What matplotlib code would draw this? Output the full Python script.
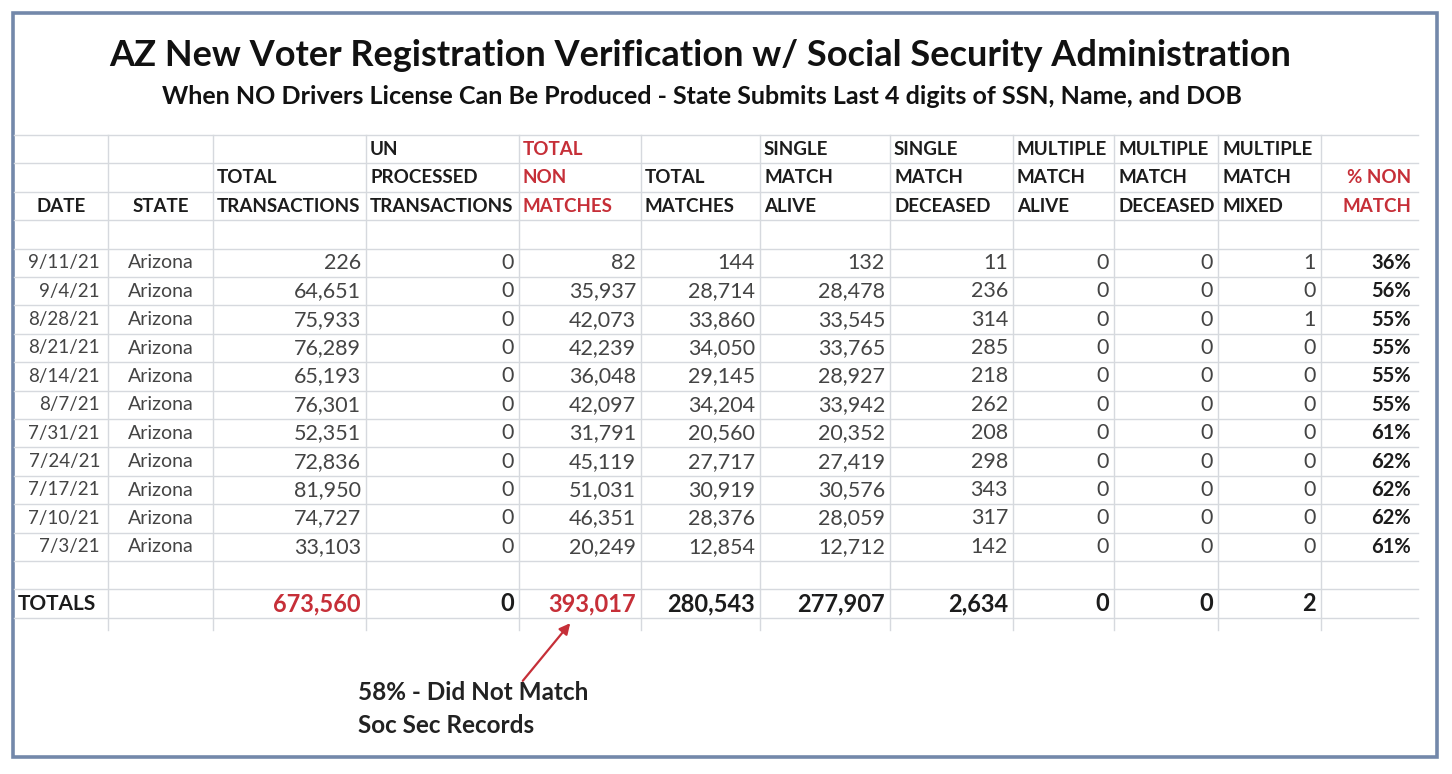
import matplotlib
matplotlib.use("Agg")
import matplotlib.pyplot as plt
from matplotlib.patches import Rectangle

# ---- data ----
dates = ["9/11/21", "9/4/21", "8/28/21", "8/21/21", "8/14/21", "8/7/21",
         "7/31/21", "7/24/21", "7/17/21", "7/10/21", "7/3/21"]
state = "Arizona"
total_transactions = [226, 64651, 75933, 76289, 65193, 76301, 52351, 72836, 81950, 74727, 33103]
unprocessed = [0, 0, 0, 0, 0, 0, 0, 0, 0, 0, 0]
total_non_matches = [82, 35937, 42073, 42239, 36048, 42097, 31791, 45119, 51031, 46351, 20249]
total_matches = [144, 28714, 33860, 34050, 29145, 34204, 20560, 27717, 30919, 28376, 12854]
single_alive = [132, 28478, 33545, 33765, 28927, 33942, 20352, 27419, 30576, 28059, 12712]
single_deceased = [11, 236, 314, 285, 218, 262, 208, 298, 343, 317, 142]
multiple_alive = [0, 0, 0, 0, 0, 0, 0, 0, 0, 0, 0]
multiple_deceased = [0, 0, 0, 0, 0, 0, 0, 0, 0, 0, 0]
multiple_mixed = [1, 0, 1, 0, 0, 0, 0, 0, 0, 0, 0]
pct_non_match = [36, 56, 55, 55, 55, 55, 61, 62, 62, 62, 61]
totals = [673560, 0, 393017, 280543, 277907, 2634, 0, 0, 2]

headers = [
    ("", "", "DATE"),
    ("", "", "STATE"),
    ("", "TOTAL", "TRANSACTIONS"),
    ("UN", "PROCESSED", "TRANSACTIONS"),
    ("TOTAL", "NON", "MATCHES"),
    ("", "TOTAL", "MATCHES"),
    ("SINGLE", "MATCH", "ALIVE"),
    ("SINGLE", "MATCH", "DECEASED"),
    ("MULTIPLE", "MATCH", "ALIVE"),
    ("MULTIPLE", "MATCH", "DECEASED"),
    ("MULTIPLE", "MATCH", "MIXED"),
    ("", "% NON", "MATCH"),
]

title = "AZ New Voter Registration Verification w/ Social Security Administration"
subtitle = "When NO Drivers License Can Be Produced - State Submits Last 4 digits of SSN, Name, and DOB"
note = "58% - Did Not Match\nSoc Sec Records"

# ---- layout (pixel coords) ----
RED = "#c62f38"
INK = "#1c1c1c"
GREY = "#444444"
GRID = "#d6d9de"
FONT = "Lato"

col_edges = [14, 108, 213, 366, 519, 641, 760, 890, 1013, 1114, 1218, 1321, 1418]
row_top = 135
row_h = 28.4

fig = plt.figure(figsize=(14.52, 7.74), dpi=100)
ax = fig.add_axes([0, 0, 1, 1])
ax.set_xlim(0, 1452)
ax.set_ylim(774, 0)
ax.axis("off")

# frame
ax.add_patch(Rectangle((13, 13), 1424, 744, fill=False, ec="#7388aa", lw=2.6))

# grid
n_rows = 17
for k in range(n_rows + 1):
    y = row_top + k * row_h
    ax.plot([col_edges[0], col_edges[-1]], [y, y], color=GRID, lw=1.0)
for x in col_edges[1:-1]:
    ax.plot([x, x], [row_top, row_top + n_rows * row_h + 12], color=GRID, lw=1.0)

def row_y(i):
    return row_top + (i + 0.5) * row_h

# titles
ax.text(700, 55, title, ha="center", va="center", fontsize=26, fontfamily=FONT,
        fontweight="bold", color="#111111")
ax.text(702, 97, subtitle, ha="center", va="center", fontsize=18, fontfamily=FONT,
        fontweight="bold", color="#111111")

# header
for c, lines in enumerate(headers):
    color = RED if c in (4, 11) else INK
    for r, txt in enumerate(lines):
        if not txt:
            continue
        if c in (0, 1):
            x, ha = (col_edges[c] + col_edges[c + 1]) / 2, "center"
        elif c == 11:
            x, ha = col_edges[c + 1] - 7, "right"
        else:
            x, ha = col_edges[c] + 4, "left"
        ax.text(x, row_y(r), txt, ha=ha, va="center", fontsize=13.5,
                fontfamily=FONT, fontweight="bold", color=color)

# body
numeric_cols = [total_transactions, unprocessed, total_non_matches, total_matches,
                single_alive, single_deceased, multiple_alive, multiple_deceased,
                multiple_mixed]
for i, d in enumerate(dates):
    y = row_y(4 + i)
    ax.text(col_edges[1] - 8, y, d, ha="right", va="center", fontsize=13.5,
            fontfamily=FONT, color=GREY)
    ax.text(col_edges[1] + 20, y, state, ha="left", va="center", fontsize=14,
            fontfamily=FONT, color=GREY)
    for j, vals in enumerate(numeric_cols):
        ax.text(col_edges[j + 3] - 5, y, f"{vals[i]:,}", ha="right", va="center",
                fontsize=15.5, fontfamily=FONT, color=GREY)
    ax.text(col_edges[12] - 7, y, f"{pct_non_match[i]}%", ha="right", va="center",
            fontsize=14.5, fontfamily=FONT, fontweight="bold", color=INK)

# totals row
y = row_y(16)
ax.text(col_edges[0] + 4, y, "TOTALS", ha="left", va="center", fontsize=15,
        fontfamily=FONT, fontweight="bold", color=INK)
for j, v in enumerate(totals):
    color = RED if j in (0, 2) else INK
    ax.text(col_edges[j + 3] - 5, y, f"{v:,}", ha="right", va="center", fontsize=17,
            fontfamily=FONT, fontweight="bold", color=color)

# callout
ax.annotate("", xy=(572, 621), xytext=(521, 683),
            arrowprops=dict(arrowstyle="-|>", color=RED, lw=1.6, mutation_scale=16))
ax.text(358, 709, note, ha="left", va="center", fontsize=17.5, fontfamily=FONT,
        fontweight="bold", color="#222222", linespacing=1.5)

fig.savefig("out.png", dpi=100)
